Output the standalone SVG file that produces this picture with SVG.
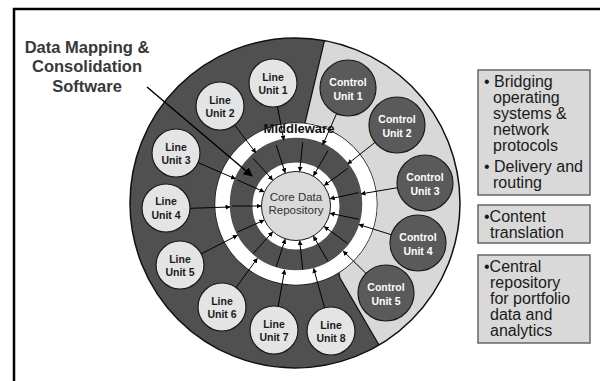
<svg xmlns="http://www.w3.org/2000/svg" width="600" height="381" viewBox="0 0 600 381">
<style>
.lu circle{fill:#e4e4e4;stroke:#1a1a1a;stroke-width:1.2}
.cu circle{fill:#5a5a5a;stroke:#1a1a1a;stroke-width:1.2}
.lu text{font-family:"Liberation Sans Narrow","Liberation Sans",Arial,sans-serif;font-weight:bold;font-size:10.5px;fill:#1a1a1a;text-anchor:middle}
.cu text{font-family:"Liberation Sans Narrow","Liberation Sans",Arial,sans-serif;font-weight:bold;font-size:10.5px;fill:#ffffff;text-anchor:middle}
.box rect{fill:#d9d9d9;stroke:#666;stroke-width:1.5}
.box text{font-family:"Liberation Sans",Arial,sans-serif;font-size:16px;fill:#1a1a1a}
.conn line{stroke:#000;stroke-width:1;marker-end:url(#ah)}
</style>
<defs>
<marker id="ah" viewBox="0 0 10 10" refX="9" refY="5" markerWidth="5" markerHeight="5" orient="auto"><path d="M0,0 L10,5 L0,10 z" fill="#000"/></marker>
<marker id="ahb" viewBox="0 0 10 10" refX="9" refY="5" markerWidth="6" markerHeight="6" orient="auto"><path d="M0,0 L10,5 L0,10 z" fill="#000"/></marker>
<clipPath id="outer"><circle cx="295" cy="203" r="165"/></clipPath>
</defs>
<rect width="600" height="381" fill="#fff"/>
<path d="M14,381 V9 H600" fill="none" stroke="#000" stroke-width="2.5"/>

<g id="wheel">
<circle cx="295" cy="203" r="165" fill="#505050"/>
<path d="M304.5,125 L327,30 L470,30 L470,381 L400,381 L340,278 Z" fill="#d8d8d8" clip-path="url(#outer)" stroke="#111" stroke-width="1.2"/>
<circle cx="295" cy="203" r="165" fill="none" stroke="#111" stroke-width="1.5"/>
<circle cx="296" cy="204" r="81" fill="#505050" stroke="#111" stroke-width="1"/>
<circle cx="296" cy="204" r="73.5" fill="none" stroke="#fff" stroke-width="14.5"/>
<circle cx="296" cy="206" r="39" fill="none" stroke="#fff" stroke-width="9"/>
</g>

<g id="core">
<circle cx="296" cy="206" r="34.5" fill="#dadada" stroke="#222" stroke-width="1"/>
<text x="296" y="201" font-family="Liberation Sans,Arial,sans-serif" font-size="11.5" fill="#333" text-anchor="middle">Core Data</text>
<text x="296" y="214" font-family="Liberation Sans,Arial,sans-serif" font-size="11.5" fill="#333" text-anchor="middle">Repository</text>
</g>

<g id="lu1" class="lu"><circle cx="273" cy="83" r="24"/><text x="273" y="81">Line</text><text x="273" y="94">Unit 1</text></g>
<g id="lu2" class="lu"><circle cx="220" cy="106" r="24"/><text x="220" y="104">Line</text><text x="220" y="117">Unit 2</text></g>
<g id="lu3" class="lu"><circle cx="176" cy="153" r="24"/><text x="176" y="151">Line</text><text x="176" y="164">Unit 3</text></g>
<g id="lu4" class="lu"><circle cx="166" cy="208" r="24"/><text x="166" y="205">Line</text><text x="166" y="219">Unit 4</text></g>
<g id="lu5" class="lu"><circle cx="180" cy="265" r="24"/><text x="180" y="263">Line</text><text x="180" y="276">Unit 5</text></g>
<g id="lu6" class="lu"><circle cx="222" cy="307" r="24"/><text x="222" y="305">Line</text><text x="222" y="318">Unit 6</text></g>
<g id="lu7" class="lu"><circle cx="274" cy="330" r="24"/><text x="274" y="328">Line</text><text x="274" y="341">Unit 7</text></g>
<g id="lu8" class="lu"><circle cx="331" cy="331" r="24"/><text x="331" y="329">Line</text><text x="331" y="342">Unit 8</text></g>

<g id="cu1" class="cu"><circle cx="348" cy="88" r="28"/><text x="348" y="86">Control</text><text x="348" y="100">Unit 1</text></g>
<g id="cu2" class="cu"><circle cx="397" cy="125" r="28"/><text x="397" y="123">Control</text><text x="397" y="137">Unit 2</text></g>
<g id="cu3" class="cu"><circle cx="425" cy="183" r="28"/><text x="425" y="181">Control</text><text x="425" y="195">Unit 3</text></g>
<g id="cu4" class="cu"><circle cx="418" cy="243" r="28"/><text x="418" y="241">Control</text><text x="418" y="255">Unit 4</text></g>
<g id="cu5" class="cu"><circle cx="386" cy="293" r="28"/><text x="386" y="291">Control</text><text x="386" y="305">Unit 5</text></g>

<g id="connectors" class="conn">
<line x1="277.5" y1="106.7" x2="283.8" y2="140.1"/>
<line x1="234.5" y1="124.9" x2="255.8" y2="152.7"/>
<line x1="197.8" y1="162.5" x2="235.4" y2="178.8"/>
<line x1="190.1" y1="208.3" x2="230.0" y2="207.0"/>
<line x1="201.3" y1="253.9" x2="237.4" y2="235.3"/>
<line x1="236.1" y1="287.5" x2="257.3" y2="258.4"/>
<line x1="278.2" y1="306.4" x2="284.6" y2="270.0"/>
<line x1="324.6" y1="307.9" x2="313.7" y2="268.6"/>
<line x1="336.6" y1="113.6" x2="322.8" y2="144.7"/>
<line x1="375.0" y1="142.4" x2="347.7" y2="164.0"/>
<line x1="397.4" y1="187.7" x2="361.0" y2="193.9"/>
<line x1="391.3" y1="234.7" x2="359.0" y2="224.6"/>
<line x1="366.0" y1="273.4" x2="343.2" y2="251.1"/>
<line x1="276.2" y1="145.1" x2="285.2" y2="172.7"/>
<line x1="302.7" y1="142.4" x2="299.7" y2="171.2"/>
<line x1="328" y1="150.6" x2="313.5" y2="175.7"/>
<line x1="347.8" y1="168.4" x2="324.3" y2="185.4"/>
<line x1="358.6" y1="192.7" x2="330.2" y2="198.7"/>
<line x1="358.6" y1="219.3" x2="330.2" y2="213.3"/>
<line x1="347.8" y1="243.6" x2="324.3" y2="226.6"/>
<line x1="328" y1="261.4" x2="313.5" y2="236.3"/>
<line x1="302.7" y1="269.6" x2="299.7" y2="240.8"/>
<line x1="276.2" y1="266.9" x2="285.2" y2="239.3"/>
<line x1="253.2" y1="253.6" x2="272.6" y2="232.0"/>
<line x1="237.5" y1="232.0" x2="264.0" y2="220.2"/>
<line x1="232" y1="206" x2="261" y2="206"/>
<line x1="237.5" y1="180.0" x2="264.0" y2="191.8"/>
<line x1="253.2" y1="158.4" x2="272.6" y2="180.0"/>
<line x1="147" y1="87" x2="252" y2="176" style="stroke-width:1.5;marker-end:url(#ahb)"/>
</g>

<g id="middleware">
<text x="299" y="133" font-family="Liberation Sans Narrow,Liberation Sans,Arial,sans-serif" font-weight="bold" font-size="13" fill="#111" text-anchor="middle">Middleware</text>
</g>

<g id="software-label" font-family="Liberation Sans,Arial,sans-serif" font-weight="bold" font-size="16.5" fill="#383838" text-anchor="middle">
<text x="87" y="53">Data Mapping &amp;</text>
<text x="87" y="72">Consolidation</text>
<text x="87" y="92">Software</text>
</g>

<g id="box1" class="box">
<rect x="478" y="70" width="112" height="125"/>
<text x="484" y="87">• Bridging</text>
<text x="493" y="103">operating</text>
<text x="493" y="119">systems &amp;</text>
<text x="493" y="135">network</text>
<text x="493" y="151">protocols</text>
<text x="484" y="172">• Delivery and</text>
<text x="493" y="188">routing</text>
</g>
<g id="box2" class="box">
<rect x="478" y="205" width="112" height="38"/>
<text x="484" y="222">•Content</text>
<text x="490" y="238">translation</text>
</g>
<g id="box3" class="box">
<rect x="478" y="255" width="112" height="88"/>
<text x="484" y="272">•Central</text>
<text x="490" y="288">repository</text>
<text x="490" y="304">for portfolio</text>
<text x="490" y="320">data and</text>
<text x="490" y="336">analytics</text>
</g>
</svg>
